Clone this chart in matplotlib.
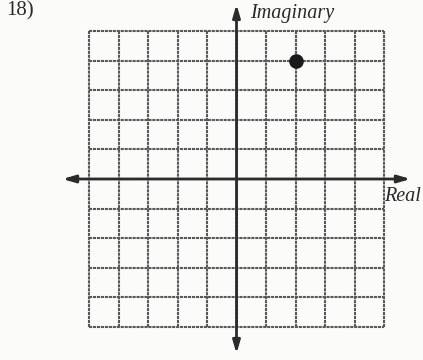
import numpy as np
import matplotlib.pyplot as plt

# Grid extent (units on each axis) and plotted complex number
grid_ticks = list(range(-5, 6))
point_real = [2]
point_imag = [4]
problem_label = "18)"
x_label = "Real"
y_label = "Imaginary"

W, H = 423, 360
fig = plt.figure(figsize=(W / 100, H / 100), dpi=100)
fig.patch.set_facecolor("#fbfbfa")

# place axes so the grid sits where it does on the page
left, right, top, bottom = 89, 384, 31, 327
ax = fig.add_axes([left / W, 1 - bottom / H, (right - left) / W, (bottom - top) / H])
ax.set_xlim(grid_ticks[0], grid_ticks[-1])
ax.set_ylim(grid_ticks[0], grid_ticks[-1])
ax.set_facecolor("none")
for s in ax.spines.values():
    s.set_visible(False)
ax.set_xticks([])
ax.set_yticks([])

grid_col = "#585858"
for t in grid_ticks:
    ax.plot([t, t], [grid_ticks[0], grid_ticks[-1]], color=grid_col, lw=1.5,
            ls=(0, (1.5, 0.4)), clip_on=False, zorder=1)
    ax.plot([grid_ticks[0], grid_ticks[-1]], [t, t], color=grid_col, lw=1.5,
            ls=(0, (1.5, 0.4)), clip_on=False, zorder=1)

# axes with arrows at both ends
axis_col = "#2b2b2b"
ext = 5.9
arrow = dict(arrowstyle="<|-|>,head_length=0.75,head_width=0.22", color=axis_col,
             lw=2.0, shrinkA=0, shrinkB=0)
ax.annotate("", xy=(ext, 0), xytext=(-ext, 0), arrowprops=arrow,
            annotation_clip=False, zorder=3)
ax.annotate("", xy=(0, ext), xytext=(0, -ext), arrowprops=arrow,
            annotation_clip=False, zorder=3)

ax.scatter(point_real, point_imag, s=90, color="#1a1a1a", zorder=4, clip_on=False)

ax.text(0.45, 5.6, y_label, fontsize=14.5, family="Liberation Serif", style="italic",
        color="#2a2a2a", va="center", ha="left")
ax.text(5.02, -0.6, x_label, fontsize=14.5, family="Liberation Serif", style="italic",
        color="#2a2a2a", va="center", ha="left", clip_on=False)

fig.text(6 / W, 1 - 1 / H, problem_label, fontsize=15, family="Liberation Serif",
         color="#2a2a2a", va="top", ha="left")

fig.savefig("out.png", dpi=100, facecolor=fig.get_facecolor())
